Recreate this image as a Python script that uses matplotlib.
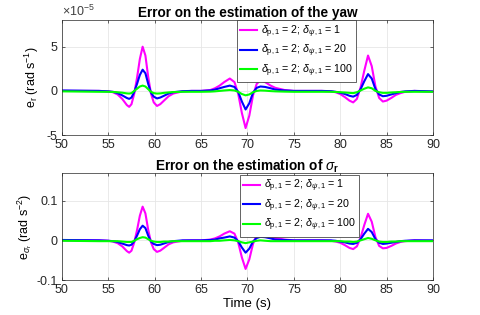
import matplotlib
matplotlib.use("Agg")
import matplotlib.pyplot as plt

plt.rcParams['font.family'] = ['Liberation Sans', 'DejaVu Sans']
plt.rcParams['axes.unicode_minus'] = False
plt.rcParams['mathtext.fontset'] = 'custom'
plt.rcParams['mathtext.rm'] = 'Liberation Sans'
plt.rcParams['mathtext.it'] = 'Liberation Sans:italic'
plt.rcParams['mathtext.bf'] = 'Liberation Sans:bold'

t = [50, 54, 55, 55.5, 56, 56.5, 57, 57.25, 57.5, 57.8, 58.1, 58.4, 58.7, 59.0, 59.3, 59.6,
     59.9, 60.25, 60.6, 61, 61.5, 62, 63, 64, 65, 66, 66.5, 67, 67.5, 68.1, 68.6, 69.0, 69.4,
     69.8, 70.2, 70.6, 71.0, 71.4, 71.9, 72.5, 73, 74, 75, 78, 79, 79.5, 80, 80.5, 81, 81.4,
     81.8, 82.2, 82.6, 83.0, 83.4, 83.8, 84.2, 84.6, 85, 85.5, 86, 86.5, 87, 88, 90]

# yaw error, units 1e-5 rad/s
yaw_d1 = [0, 0, -0.05, -0.15, -0.4, -0.9, -1.6, -1.8, -1.5, -0.3, 1.5, 3.6, 5.0, 4.0, 1.6, -0.3,
          -1.3, -1.7, -1.5, -1.1, -0.6, -0.3, -0.05, 0, 0, 0.1, 0.3, 0.6, 1.0, 1.4, 1.0, -0.3, -2.5,
          -4.2, -2.8, -0.5, 0.8, 1.2, 1.0, 0.6, 0.35, 0.1, 0, 0, -0.05, -0.15, -0.35, -0.7, -1.1, -1.3,
          -0.9, 0.4, 2.3, 4.0, 2.8, 0.5, -0.8, -1.2, -1.1, -0.8, -0.45, -0.25, -0.1, 0, -0.1]
yaw_d20 = [0.05, 0, -0.05, -0.1, -0.25, -0.5, -0.8, -0.9, -0.75, -0.1, 0.8, 1.8, 2.4, 2.0, 0.8, -0.2,
           -0.65, -0.85, -0.75, -0.55, -0.3, -0.15, -0.03, 0, 0, 0.05, 0.15, 0.3, 0.45, 0.6, 0.45, -0.1, -1.2,
           -2.1, -1.4, -0.2, 0.35, 0.5, 0.45, 0.3, 0.15, 0.05, 0, 0, -0.03, -0.1, -0.2, -0.35, -0.55, -0.65,
           -0.45, 0.2, 1.1, 1.9, 1.4, 0.2, -0.4, -0.6, -0.55, -0.4, -0.25, -0.12, -0.05, 0, -0.05]
yaw_d100 = [-0.05, -0.1, -0.1, -0.12, -0.15, -0.2, -0.28, -0.3, -0.25, 0.0, 0.25, 0.5, 0.6, 0.5, 0.2, -0.1,
            -0.25, -0.3, -0.28, -0.22, -0.17, -0.13, -0.1, -0.1, -0.1, -0.08, -0.05, 0.0, 0.05, 0.1, 0.05, -0.1, -0.35,
            -0.5, -0.4, -0.15, 0.0, 0.05, 0.03, -0.02, -0.05, -0.08, -0.1, -0.1, -0.1, -0.12, -0.15, -0.18, -0.22, -0.25,
            -0.15, 0.05, 0.25, 0.4, 0.3, 0.0, -0.15, -0.22, -0.22, -0.18, -0.15, -0.12, -0.1, -0.1, -0.1]

# sigma_r error, rad/s^2
sig_d1 = [0, 0, -0.001, -0.003, -0.007, -0.015, -0.027, -0.031, -0.026, -0.005, 0.026, 0.062, 0.085, 0.068, 0.027, -0.005,
          -0.022, -0.029, -0.026, -0.019, -0.010, -0.005, -0.001, 0, 0, 0.002, 0.005, 0.010, 0.017, 0.023, 0.017, -0.005, -0.043,
          -0.072, -0.048, -0.009, 0.014, 0.020, 0.017, 0.010, 0.006, 0.002, 0, 0, -0.001, -0.003, -0.006, -0.012, -0.019, -0.022,
          -0.015, 0.007, 0.039, 0.067, 0.047, 0.008, -0.014, -0.020, -0.019, -0.014, -0.008, -0.004, -0.002, 0, -0.001]
sig_d20 = [0.001, 0, -0.001, -0.002, -0.004, -0.008, -0.012, -0.013, -0.011, -0.002, 0.012, 0.028, 0.037, 0.031, 0.012, -0.003,
           -0.009, -0.012, -0.011, -0.008, -0.004, -0.002, 0, 0, 0, 0.001, 0.002, 0.005, 0.007, 0.010, 0.007, -0.002, -0.018,
           -0.031, -0.021, -0.003, 0.006, 0.009, 0.008, 0.005, 0.002, 0.001, 0, 0, 0, -0.001, -0.003, -0.005, -0.008, -0.009,
           -0.006, 0.003, 0.017, 0.029, 0.021, 0.003, -0.006, -0.009, -0.008, -0.006, -0.004, -0.002, -0.001, 0, 0]
sig_d100 = [-0.001, -0.002, -0.002, -0.002, -0.002, -0.003, -0.004, -0.004, -0.004, -0.001, 0.003, 0.006, 0.008, 0.007, 0.003, -0.001,
            -0.003, -0.004, -0.004, -0.003, -0.003, -0.002, -0.002, -0.002, -0.002, -0.002, -0.001, -0.001, 0.0, 0.001, 0.0, -0.002, -0.005,
            -0.007, -0.005, -0.003, -0.001, 0.0, -0.001, -0.002, -0.002, -0.002, -0.002, -0.002, -0.002, -0.002, -0.002, -0.003, -0.003, -0.004,
            -0.003, 0.0, 0.003, 0.006, 0.004, 0.0, -0.003, -0.004, -0.004, -0.003, -0.003, -0.002, -0.002, -0.002, -0.002]

labels = [r'$\delta_{\mathrm{p,1}}$ = 2; $\delta_{\psi\mathrm{,1}}$ = 1',
          r'$\delta_{\mathrm{p,1}}$ = 2; $\delta_{\psi\mathrm{,1}}$ = 20',
          r'$\delta_{\mathrm{p,1}}$ = 2; $\delta_{\psi\mathrm{,1}}$ = 100']
colors = ['#ff00ff', '#0000ff', '#00ff00']
xticks = [50, 55, 60, 65, 70, 75, 80, 85, 90]
yaw_ticks = [-5, 0, 5]
yaw_ticklabels = ['-5', '0', '5']
sig_ticks = [-0.1, 0, 0.1]
sig_ticklabels = ['-0.1', '0', '0.1']

fig = plt.figure(figsize=(4.8, 3.15), dpi=100)
ax1 = fig.add_axes([0.129, 0.571, 0.773, 0.365])
ax2 = fig.add_axes([0.129, 0.111, 0.773, 0.340])

fs = 9
edge = '#262626'

def style(ax):
    ax.set_xlim(50, 90)
    ax.set_xticks(xticks)
    ax.grid(True, color='#e6e6e6', linewidth=0.6)
    ax.set_axisbelow(True)
    ax.tick_params(direction='in', length=2.5, width=0.5, colors=edge, labelsize=fs,
                   top=True, right=True, pad=3)
    for s in ax.spines.values():
        s.set_color(edge)
        s.set_linewidth(0.5)

def add_legend(ax, anchor):
    leg = ax.legend(loc='upper left', bbox_to_anchor=anchor, fontsize=7.7,
                    frameon=True, fancybox=False, edgecolor=edge, framealpha=1,
                    handlelength=1.55, handletextpad=0.35, borderpad=0.3, labelspacing=0.3,
                    borderaxespad=0)
    leg.get_frame().set_linewidth(0.5)

for y, c, l in zip([yaw_d1, yaw_d20, yaw_d100], colors, labels):
    ax1.plot(t, y, color=c, lw=1.5, label=l)
style(ax1)
ax1.set_ylim(-5, 8)
ax1.set_yticks(yaw_ticks)
ax1.set_yticklabels(yaw_ticklabels)
ax1.text(0.0, 1.01, r'$\times$10$^{\mathrm{-5}}$', transform=ax1.transAxes, fontsize=fs,
         color='#404040', ha='left', va='bottom')
ax1.set_title('Error on the estimation of the yaw', fontsize=9.8, fontweight='bold', pad=2)
ax1.set_ylabel(r'e$_{\mathrm{r}}$ (rad s$^{\mathrm{-1}}$)', fontsize=fs, labelpad=4)
add_legend(ax1, (0.472, 1.0))

for y, c, l in zip([sig_d1, sig_d20, sig_d100], colors, labels):
    ax2.plot(t, y, color=c, lw=1.5, label=l)
style(ax2)
ax2.set_ylim(-0.1, 0.17)
ax2.set_yticks(sig_ticks)
ax2.set_yticklabels(sig_ticklabels)
ax2.set_title(r'Error on the estimation of $\sigma_{\mathbf{r}}$', fontsize=9.8, fontweight='bold', pad=2)
ax2.set_ylabel(r'e$_{\sigma_{\mathrm{r}}}$ (rad s$^{\mathrm{-2}}$)', fontsize=fs, labelpad=2)
ax2.set_xlabel('Time (s)', fontsize=9.5, labelpad=1)
add_legend(ax2, (0.48, 0.985))

fig.savefig('out.png', dpi=100)
